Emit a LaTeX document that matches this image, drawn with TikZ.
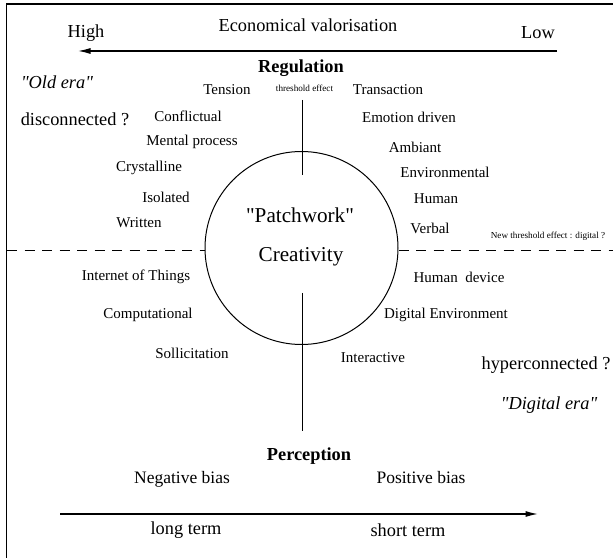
\documentclass[tikz,border=0pt]{standalone}
\usepackage{fontspec}
\setmainfont{Liberation Serif}
\usetikzlibrary{arrows.meta}

\newcommand{\qt}[1]{\textquotedbl#1\textquotedbl}

\tikzset{
  axis/.style={line width=0.75pt, -{Latex[length=7.5pt,width=3.6pt]}},
  lbl/.style={inner sep=0pt, font=\fontsize{9}{11}\selectfont},
  big/.style={inner sep=0pt, font=\fontsize{11}{13}\selectfont},
  bias/.style={inner sep=0pt, font=\fontsize{10.5}{12}\selectfont},
  head/.style={inner sep=0pt, font=\fontsize{11}{13}\selectfont\bfseries},
  era/.style={inner sep=0pt, font=\fontsize{11}{13}\selectfont\itshape},
  note/.style={inner sep=0pt, font=\fontsize{5.5}{6.5}\selectfont},
  core/.style={inner sep=0pt, font=\fontsize{12.7}{15}\selectfont},
}

\begin{document}
\begin{tikzpicture}[x=0.6pt, y=-0.6pt]
        \useasboundingbox (0,0) rectangle (613,558);
        \draw[line width=0.8pt] (613,4) -- (6.5,4) -- (6.5,558);

        % top axis
        \node[big] (econ) at (308,25) {Economical valorisation};
        \node[big] (high) at (86,33) {High};
        \node[big] (low) at (538,33) {Low};
        \coordinate (ecoR) at (557,51);
        \coordinate (ecoL) at (78,51);
        \draw[axis] (ecoR) -- (ecoL);

        % centre
        \node[circle, draw, line width=0.6pt, minimum size=115.8pt, inner sep=0pt] (circ) at (301.5,248) {};
        \node[core] (patch) at (300,215) {\qt{Patchwork}};
        \node[core] (creat) at (301,257) {Creativity};
        \node[head] (regul) at (301,68) {Regulation};
        \node[note] (thresh) at (304.5,88) {threshold effect};
        \node[head] (percep) at (309,456) {Perception};

        \coordinate (vtopA) at (302,100);
        \coordinate (vtopB) at (302,175);
        \coordinate (vbotA) at (302,293);
        \coordinate (vbotB) at (302,431);
        \draw[line width=0.5pt] (vtopA) -- (vtopB);
        \draw[line width=0.5pt] (vbotA) -- (vbotB);

        \coordinate (dashL) at (7,250);
        \coordinate (dashR) at (613,250);
        \draw[dash pattern=on 6pt off 4.5pt, line width=0.5pt] (dashL) -- (dashL -| circ.west);
        \draw[dash pattern=on 6pt off 4.5pt, line width=0.5pt] (dashR -| circ.east) -- (dashR);
        \node[note] (newthresh) at (548,236) {New threshold effect : digital ?};

        % left side
        \node[era] (oldera) at (57,82) {\qt{Old era}};
        \node[big] (discon) at (75,119) {disconnected ?};
        \node[lbl] (tension) at (227,90) {Tension};
        \node[lbl] (conflict) at (188,116) {Conflictual};
        \node[lbl] (mental) at (192,142) {Mental process};
        \node[lbl] (crystal) at (149,168) {Crystalline};
        \node[lbl] (isolated) at (166,197) {Isolated};
        \node[lbl] (written) at (139,223) {Written};
        \node[lbl] (iot) at (136,277) {Internet of Things};
        \node[lbl] (comput) at (148,315) {Computational};
        \node[lbl] (sollic) at (192,353) {Sollicitation};

        % right side
        \node[lbl] (transac) at (388,90) {Transaction};
        \node[lbl] (emotion) at (409,117) {Emotion driven};
        \node[lbl] (ambiant) at (415,147) {Ambiant};
        \node[lbl] (environ) at (445,172) {Environmental};
        \node[lbl] (human) at (436,199) {Human};
        \node[lbl] (verbal) at (430,228) {Verbal};
        \node[lbl] (humdev) at (459,277) {Human~~device};
        \node[lbl] (digenv) at (446,315) {Digital Environment};
        \node[lbl] (interac) at (373,358) {Interactive};
        \node[big] (hyper) at (546,365) {hyperconnected ?};
        \node[era] (digera) at (549,405) {\qt{Digital era}};

        % bottom axis
        \node[bias] (negb) at (182,479) {Negative bias};
        \node[bias] (posb) at (421,478) {Positive bias};
        \coordinate (termL) at (60,514);
        \coordinate (termR) at (538,514);
        \draw[axis] (termL) -- (termR);
        \node[big] (longt) at (186,530) {long term};
        \node[big] (shortt) at (408,530) {short term};
\end{tikzpicture}
\end{document}
